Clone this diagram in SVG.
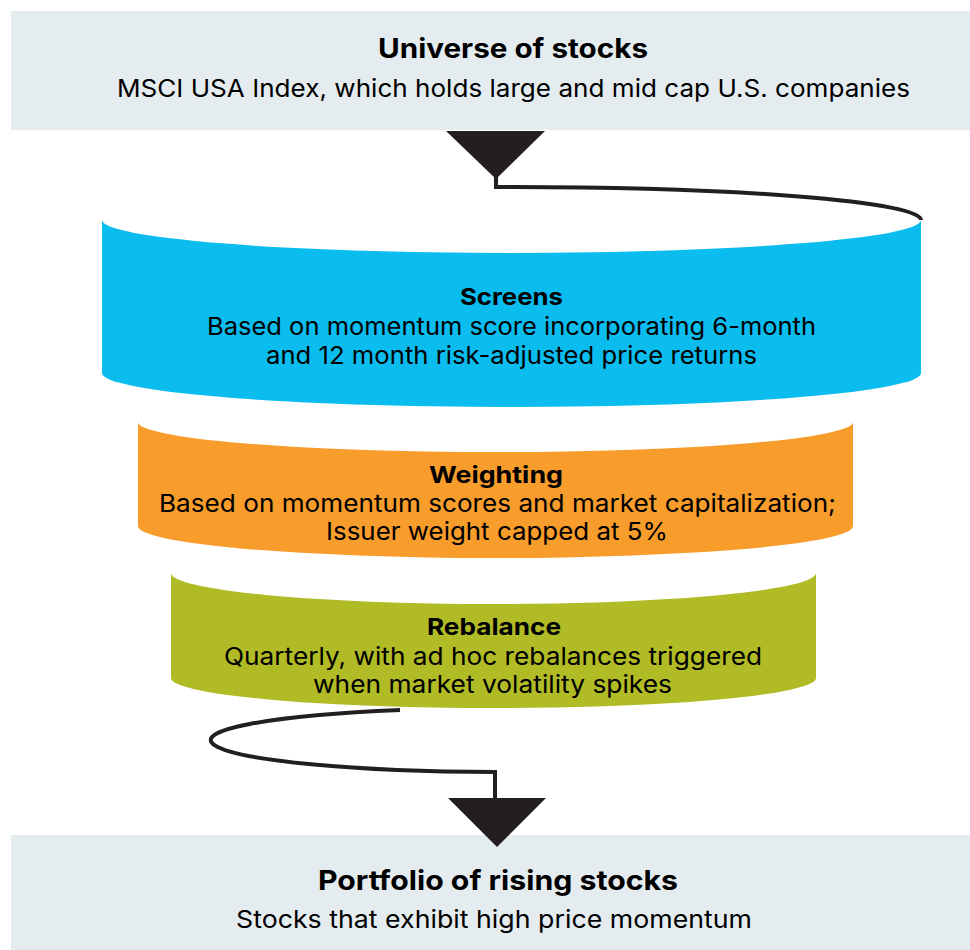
<svg xmlns="http://www.w3.org/2000/svg" width="970" height="950" viewBox="0 0 970 950">
<defs>
<style>
.box{fill:#e5ecef}
.t{font-family:Inter,"Noto Sans","Liberation Sans",sans-serif;fill:#000;text-anchor:middle;font-size:24.5px}
.b{font-weight:700}
.h{font-size:23.5px}
.line{fill:none;stroke:#231f20;stroke-width:4}
.tri{fill:#231f20}
</style>
</defs>
<rect width="970" height="950" fill="#fff"/>
<g id="universe">
<rect class="box" x="11" y="11" width="959" height="119"/>
<text class="t b" x="513" y="58" style="font-size:26.5px" textLength="270" lengthAdjust="spacingAndGlyphs">Universe of stocks</text>
<text class="t" x="513.5" y="97" textLength="793" lengthAdjust="spacingAndGlyphs">MSCI USA Index, which holds large and mid cap U.S. companies</text>
</g>
<g id="portfolio">
<rect class="box" x="11" y="835" width="959" height="115"/>
<text class="t b" x="498" y="890" style="font-size:27.5px" textLength="360" lengthAdjust="spacingAndGlyphs">Portfolio of rising stocks</text>
<text class="t" x="494" y="928" textLength="516" lengthAdjust="spacingAndGlyphs">Stocks that exhibit high price momentum</text>
</g>
<g id="connectors">
<path class="line" d="M921,220 A409.5,33 0 0,0 496,187 V176"/>
<polygon class="tri" points="446,131 545,131 496,179"/>
<path class="line" d="M400,710 A290,32 0 0,0 495,772 V800"/>
<polygon class="tri" points="448,798 546,798 497,847"/>
</g>
<g id="screens">
<path fill="#0bbcef" d="M102,220 A409.5,33 0 0,0 921,220 V373 A409.5,34 0 0,1 102,373 Z"/>
<text class="t b h" x="511.5" y="305" textLength="103" lengthAdjust="spacingAndGlyphs">Screens</text>
<text class="t" x="511.5" y="335" textLength="609" lengthAdjust="spacingAndGlyphs">Based on momentum score incorporating 6-month</text>
<text class="t" x="511.5" y="364" textLength="491" lengthAdjust="spacingAndGlyphs">and 12 month risk-adjusted price returns</text>
</g>
<g id="weighting">
<path fill="#f89c2c" d="M138,422 A357.5,30 0 0,0 853,422 V526 A357.5,32 0 0,1 138,526 Z"/>
<text class="t b h" x="496" y="483" textLength="134" lengthAdjust="spacingAndGlyphs">Weighting</text>
<text class="t" x="497.5" y="512" textLength="677" lengthAdjust="spacingAndGlyphs">Based on momentum scores and market capitalization;</text>
<text class="t" x="497" y="540" textLength="342" lengthAdjust="spacingAndGlyphs">Issuer weight capped at 5%</text>
</g>
<g id="rebalance">
<path fill="#b0bb25" d="M171,573 A322.5,31 0 0,0 816,573 V678 A322.5,30 0 0,1 171,678 Z"/>
<text class="t b h" x="494" y="635" textLength="134" lengthAdjust="spacingAndGlyphs">Rebalance</text>
<text class="t" x="493" y="665" textLength="538" lengthAdjust="spacingAndGlyphs">Quarterly, with ad hoc rebalances triggered</text>
<text class="t" x="492.5" y="693" textLength="359" lengthAdjust="spacingAndGlyphs">when market volatility spikes</text>
</g>
</svg>
